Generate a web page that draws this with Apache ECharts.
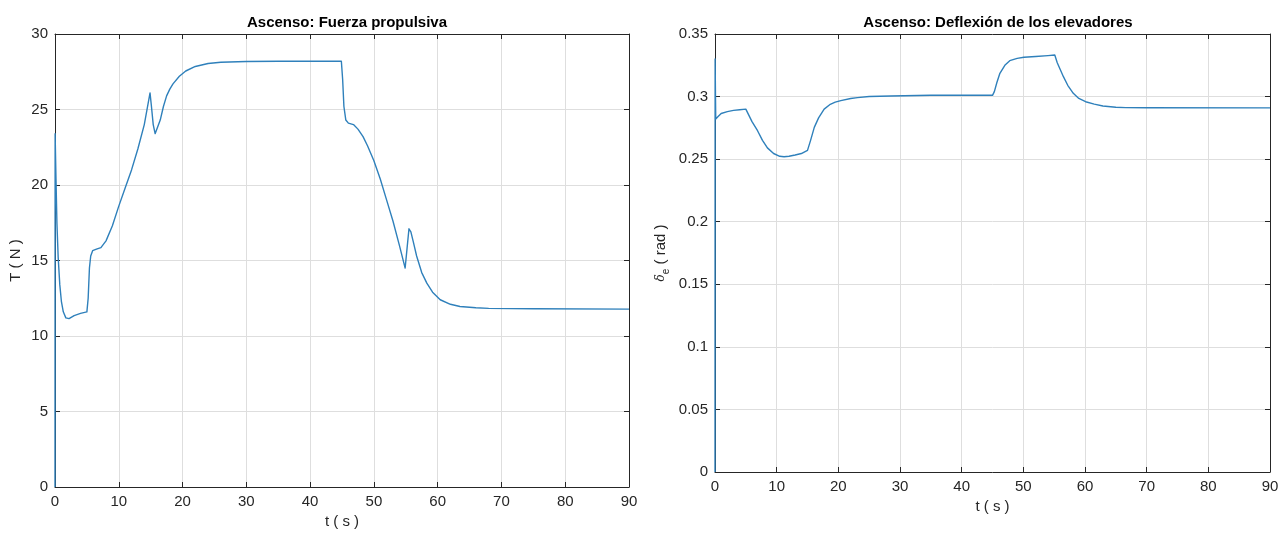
<!DOCTYPE html>
<html>
<head>
<meta charset="utf-8">
<script src="https://cdn.jsdelivr.net/npm/echarts@6/dist/echarts.min.js"></script>
<style>
html,body{margin:0;padding:0;background:#fff;}
#c{width:1285px;height:535px;}
</style>
</head>
<body>
<div id="c"></div>
<script>
// ---- Data ----
const xTicks = [0, 10, 20, 30, 40, 50, 60, 70, 80, 90];

// Left: thrust T (N) vs time (s)
const tThrust = [0, 0.02, 0.15, 0.3, 0.5, 0.75, 1.0, 1.3, 1.7, 2.2, 3.0, 4.0, 5.0, 5.2, 5.4, 5.6, 5.9, 6.5, 7.2, 8.0, 9.0, 10.0, 11.0, 12.0, 13.0, 14.0, 14.9, 15.1, 15.4, 15.7, 16.0, 16.5, 17.0, 17.5, 18.0, 18.5, 19.5, 20.5, 22, 24, 26, 30, 35, 40, 44.9, 45.1, 45.3, 45.6, 46.0, 46.8, 47.5, 48.3, 49.0, 50.0, 51.0, 52.0, 53.0, 54.0, 54.9, 55.2, 55.5, 55.8, 56.2, 56.7, 57.5, 58.3, 59.2, 60.4, 62, 63.5, 66, 68, 75, 90];
const thrust = [0, 23.4, 20.5, 17.5, 15.2, 13.4, 12.3, 11.6, 11.2, 11.15, 11.35, 11.5, 11.6, 12.5, 14.5, 15.3, 15.65, 15.75, 15.85, 16.3, 17.3, 18.6, 19.8, 21.0, 22.4, 24.0, 26.1, 25.3, 24.0, 23.4, 23.5, 24.3, 25.2, 25.9, 26.35, 26.7, 27.2, 27.55, 27.85, 28.05, 28.13, 28.18, 28.2, 28.2, 28.2, 27.0, 25.2, 24.3, 24.1, 24.0, 23.7, 23.2, 22.6, 21.6, 20.4, 19.0, 17.6, 16.0, 14.5, 15.8, 17.1, 16.9, 16.2, 15.3, 14.2, 13.5, 12.9, 12.4, 12.1, 11.95, 11.87, 11.83, 11.8, 11.78];

// Right: elevator deflection delta_e (rad) vs time (s)
const tDelta = [0, 0.02, 0.08, 0.12, 0.5, 1.0, 2.0, 3.0, 4.0, 5.0, 5.5, 6.0, 6.9, 7.7, 8.5, 9.5, 10.5, 11.2, 12.0, 13.0, 14.0, 15.0, 15.5, 16.1, 16.8, 17.7, 18.6, 19.5, 20.4, 22, 23.1, 25, 28.5, 35, 45, 45.3, 45.7, 46.2, 47, 47.8, 49, 50.1, 52, 54, 55.1, 55.5, 56, 56.5, 57.2, 58.1, 59, 60.1, 61.5, 62.9, 65, 66.6, 70, 90];
const delta = [0, 0.33, 0.3, 0.282, 0.284, 0.2865, 0.288, 0.289, 0.2895, 0.290, 0.285, 0.28, 0.2727, 0.265, 0.259, 0.2545, 0.2523, 0.2519, 0.2523, 0.2533, 0.2545, 0.257, 0.265, 0.2754, 0.283, 0.290, 0.2935, 0.2955, 0.2968, 0.2985, 0.2992, 0.3, 0.3005, 0.301, 0.301, 0.304, 0.311, 0.3186, 0.325, 0.3287, 0.3305, 0.3314, 0.332, 0.3327, 0.3332, 0.327, 0.3215, 0.3159, 0.309, 0.3026, 0.2985, 0.2959, 0.294, 0.2925, 0.2915, 0.2912, 0.2911, 0.291];

const titles = ['Ascenso: Fuerza propulsiva', 'Ascenso: Deflexión de los elevadores'];

// ---- Chart ----
const FONT = 'Liberation Sans, Arial, Helvetica, sans-serif';
const LINE = '#2f80bb';
const GRIDC = '#dedede';
const AXC = '#262626';

function pairs(xs, ys) { return xs.map((x, i) => [x, ys[i]]); }

function xAx(gi, pos, show) {
  return {
    type: 'value', gridIndex: gi, position: pos, min: 0, max: 90, interval: 10,
    axisLine: { show: true, onZero: false, lineStyle: { color: AXC, width: 1 } },
    axisTick: { show: true, inside: true, length: 5, lineStyle: { color: AXC } },
    axisLabel: { show: show, color: '#262626', fontSize: 15, fontFamily: FONT, margin: 7 },
    splitLine: { show: show, lineStyle: { color: GRIDC, width: 1 } },
    name: show ? 't ( s )' : '', nameLocation: 'middle', nameGap: 27,
    nameTextStyle: { color: '#262626', fontSize: 15, fontFamily: FONT }
  };
}
function yAx(gi, pos, show, max, interval, name, nameGap) {
  return {
    type: 'value', gridIndex: gi, position: pos, min: 0, max: max, interval: interval,
    axisLine: { show: true, onZero: false, lineStyle: { color: AXC, width: 1 } },
    axisTick: { show: true, inside: true, length: 5, lineStyle: { color: AXC } },
    axisLabel: { show: show, color: '#262626', fontSize: 15, fontFamily: FONT, margin: 7 },
    splitLine: { show: show, lineStyle: { color: GRIDC, width: 1 } },
    name: show ? name : '', nameLocation: 'middle', nameGap: nameGap,
    nameTextStyle: {
      color: '#262626', fontSize: 15, fontFamily: FONT,
      rich: {
        d: { fontSize: 12, fontStyle: 'italic', fontFamily: 'DejaVu Serif, serif', color: '#262626' },
        e: { fontSize: 10, fontFamily: FONT, color: '#262626', padding: [10, 0, 0, 0] },
        r: { fontSize: 15, fontFamily: FONT, color: '#262626' }
      }
    }
  };
}

const chart = echarts.init(document.getElementById('c'), null, { renderer: 'canvas' });
chart.setOption({
  backgroundColor: '#ffffff',
  animation: false,
  title: [
    { text: titles[0], left: 342, top: 10, textAlign: 'center',
      textStyle: { fontSize: 15, fontWeight: 'bold', color: '#000', fontFamily: FONT } },
    { text: titles[1], left: 993, top: 10, textAlign: 'center',
      textStyle: { fontSize: 15, fontWeight: 'bold', color: '#000', fontFamily: FONT } }
  ],
  grid: [
    { left: 55, top: 34, width: 574, height: 453, show: false },
    { left: 715, top: 34, width: 555, height: 438, show: false }
  ],
  xAxis: [
    xAx(0, 'bottom', true), xAx(0, 'top', false),
    xAx(1, 'bottom', true), xAx(1, 'top', false)
  ],
  yAxis: [
    yAx(0, 'left', true, 30, 5, 'T ( N )', 32), yAx(0, 'right', false, 30, 5, '', 0),
    yAx(1, 'left', true, 0.35, 0.05, '{d|δ}{e|e}{r| ( rad )}', 44), yAx(1, 'right', false, 0.35, 0.05, '', 0)
  ],
  series: [
    { type: 'line', xAxisIndex: 0, yAxisIndex: 0, data: pairs(tThrust, thrust),
      showSymbol: false, symbol: 'none', lineStyle: { color: LINE, width: 1.4, join: 'round' }, z: 5 },
    { type: 'line', xAxisIndex: 2, yAxisIndex: 2, data: pairs(tDelta, delta),
      showSymbol: false, symbol: 'none', lineStyle: { color: LINE, width: 1.4, join: 'round' }, z: 5 }
  ]
});
</script>
</body>
</html>
